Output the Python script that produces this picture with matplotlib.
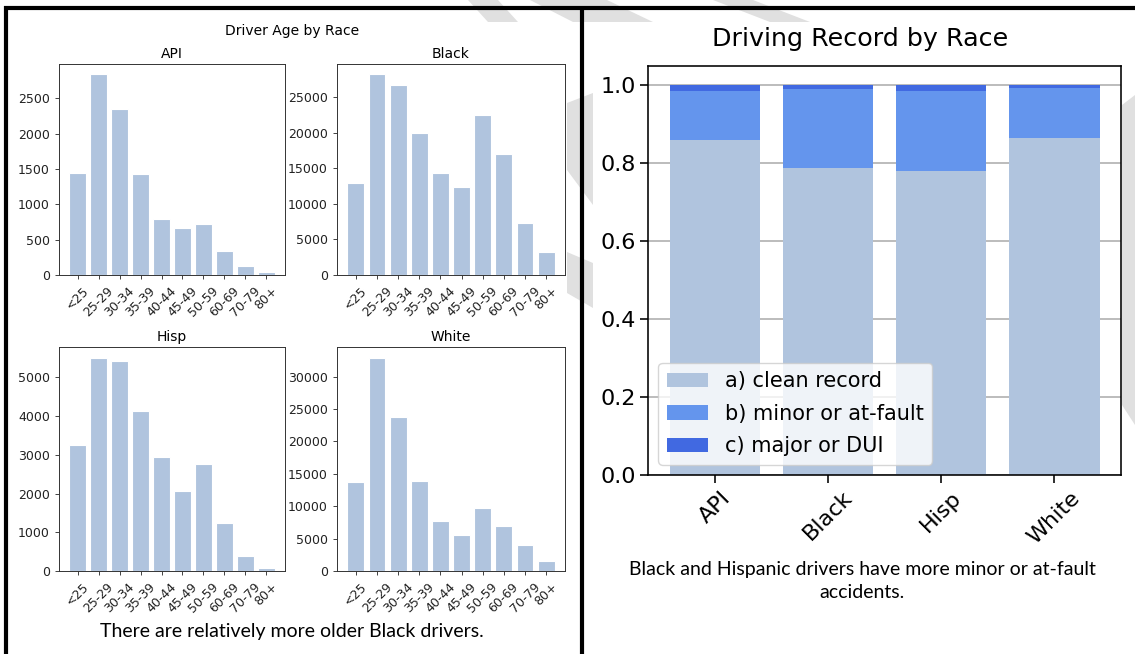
import matplotlib
matplotlib.use('Agg')
import matplotlib.pyplot as plt
from matplotlib.patches import Polygon
from matplotlib.lines import Line2D
import numpy as np

# driver counts per age bracket
ages = ['<25', '25-29', '30-34', '35-39', '40-44', '45-49', '50-59', '60-69', '70-79', '80+']
api_counts = [1449, 2846, 2348, 1430, 791, 672, 720, 336, 123, 43]
black_counts = [12970, 28240, 26645, 20020, 14333, 12359, 22415, 17011, 7284, 3242]
hisp_counts = [3241, 5509, 5414, 4129, 2948, 2060, 2759, 1233, 397, 69]
white_counts = [13814, 32938, 23763, 13918, 7784, 5567, 9742, 6959, 3969, 1546]

# share of drivers by record type
races = ['API', 'Black', 'Hisp', 'White']
clean = np.array([0.859, 0.787, 0.781, 0.865])
minor = np.array([0.128, 0.205, 0.204, 0.129])
major = np.array([0.013, 0.008, 0.015, 0.006])

W, H = 1135, 654
fig = plt.figure(figsize=(W / 100, H / 100), dpi=100)


def px_rect(x0, y0, x1, y1):
    return [x0 / W, 1 - y1 / H, (x1 - x0) / W, (y1 - y0) / H]


def px(x, y):
    return (x / W, 1 - y / H)


# faint slide background stripes
stripes = [
    [(468, 0), (498, 0), (518, 22), (488, 22)],
    [(530, 0), (607, 0), (653, 22), (573, 22)],
    [(713, 0), (753, 0), (810, 22), (770, 22)],
    [(567, 103), (593, 93), (593, 205), (567, 170)],
    [(567, 252), (593, 263), (593, 308), (567, 293)],
    [(1122, 105), (1135, 95), (1135, 425), (1122, 405)],
]
for pts in stripes:
    fig.add_artist(Polygon([px(*p) for p in pts], closed=True, transform=fig.transFigure,
                           facecolor='#e0e0e0', edgecolor='none', zorder=0))

# panel borders
for (x0, y0), (x1, y1) in [((4, 7.5), (1135, 7.5)), ((5.5, 6), (5.5, 654)), ((581.5, 6), (581.5, 654))]:
    fig.add_artist(Line2D([x0 / W, x1 / W], [1 - y0 / H, 1 - y1 / H], transform=fig.transFigure,
                          color='black', lw=3, solid_capstyle='butt', zorder=5))

# left panel: age histograms
fig.text(292 / W, 1 - 31 / H, 'Driver Age by Race', ha='center', va='center', fontsize=10)
panels = [
    ('API', api_counts, (59, 64, 285, 275)),
    ('Black', black_counts, (337, 64, 565, 275)),
    ('Hisp', hisp_counts, (59, 347, 285, 571)),
    ('White', white_counts, (337, 347, 565, 571)),
]
for name, counts, rect in panels:
    ax = fig.add_axes(px_rect(*rect))
    ax.bar(ages, counts, color='lightsteelblue', edgecolor='white', linewidth=0.8)
    ax.set_title(name, fontsize=10, pad=4)
    ax.tick_params(labelsize=9, length=3, width=0.6, colors='#222222')
    plt.setp(ax.get_xticklabels(), rotation=45)
    for s in ax.spines.values():
        s.set_linewidth(0.7)
        s.set_color('#333333')

fig.text(292 / W, 1 - 632 / H, 'There are relatively more older Black drivers.',
         ha='center', va='center', fontsize=14, family='Lato')

# right panel: stacked driving record shares
ax = fig.add_axes(px_rect(648, 66, 1121, 475))
ax.bar(races, clean, width=0.8, color='lightsteelblue', label='a) clean record')
ax.bar(races, minor, width=0.8, bottom=clean, color='cornflowerblue', label='b) minor or at-fault')
ax.bar(races, major, width=0.8, bottom=clean + minor, color='royalblue', label='c) major or DUI')
ax.set_axisbelow(True)
ax.yaxis.grid(True, color='#b0b0b0', lw=1.2)
ax.set_yticks([0, 0.2, 0.4, 0.6, 0.8, 1.0])
ax.tick_params(labelsize=16, length=5.5, width=1.15)
plt.setp(ax.get_xticklabels(), rotation=45)
for s in ax.spines.values():
    s.set_linewidth(1.15)
ax.legend(loc='lower left', fontsize=15, framealpha=0.8, labelspacing=0.6)

fig.text(860 / W, 1 - 39 / H, 'Driving Record by Race', ha='center', va='center', fontsize=18.3)

fig.text(862 / W, 1 - 570 / H, 'Black and Hispanic drivers have more minor or at-fault',
         ha='center', va='center', fontsize=14, family='Lato')
fig.text(862 / W, 1 - 593 / H, 'accidents.', ha='center', va='center', fontsize=14, family='Lato')

fig.savefig('out.png', dpi=100)
